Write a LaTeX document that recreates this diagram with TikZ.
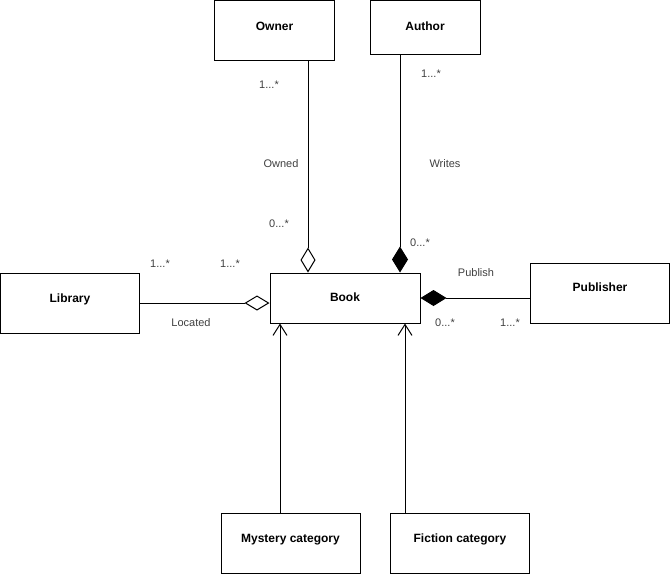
\documentclass[tikz,border=0pt]{standalone}
\usepackage{fontspec}
\setmainfont{Liberation Sans}
\usetikzlibrary{arrows.meta}

\begin{document}
\begin{tikzpicture}[x=1pt,y=-1pt]
\tikzstyle{every node}+=[inner sep=0pt]
\tikzstyle{box}=[draw=black,line width=1pt,text height=9pt,font=\fontsize{12}{14}\selectfont\bfseries]
\tikzstyle{lbl}=[text=black!75,font=\fontsize{11}{13}\selectfont]
\tikzstyle{link}=[draw=black,line width=1pt]
\tikzstyle{aggr}=[link,{Diamond[open,length=25pt,width=15pt]}-]
\tikzstyle{comp}=[link,{Diamond[length=26pt,width=16pt]}-]
\tikzstyle{inh}=[link,-{Straight Barb[length=11pt,width=14pt]}]
\useasboundingbox (0,0) rectangle (672,574);
\node [box,text depth=10pt,minimum width=120pt,minimum height=60pt] (owner) at (274.5,30.5) {Owner};
\node [box,text depth=4pt,minimum width=110pt,minimum height=54pt] (author) at (425,27.5) {Author};
\node [box,text depth=2pt,minimum width=150pt,minimum height=50pt] (book) at (345,298) {Book};
\node [box,text depth=10.5pt,minimum width=139pt,minimum height=60pt] (library) at (70,303) {Library};
\node [box,text depth=12pt,minimum width=139pt,minimum height=60pt] (publisher) at (600,293) {Publisher};
\node [box,text depth=11pt,minimum width=139pt,minimum height=60pt] (mystery) at (290.5,543) {Mystery category};
\node [box,text depth=11pt,minimum width=139pt,minimum height=60pt] (fiction) at (460,543) {Fiction category};
\draw [aggr] ([xshift=-37pt]book.north) -- ([xshift=33.5pt]owner.south);
\draw [comp] ([xshift=55pt]book.north) -- ([xshift=-25pt]author.south);
\draw [aggr] (library.east -| book.west) -- (library.east);
\draw [comp] (book.east) -- (book.east -| publisher.west);
\draw [inh] ([xshift=-10.5pt]mystery.north) -- ([xshift=-10.5pt]mystery.north |- book.south);
\draw [inh] ([xshift=-55pt]fiction.north) -- ([xshift=-55pt]fiction.north |- book.south);
\node [lbl] (ownmany) at (269,85) {1...*};
\node [lbl] (owned) at (281,164) {Owned};
\node [lbl] (bookown) at (279,224) {0...*};
\node [lbl] (authmany) at (431,74) {1...*};
\node [lbl] (writes) at (445,164) {Writes};
\node [lbl] (bookwrt) at (420,243) {0...*};
\node [lbl] (libmany) at (160,264) {1...*};
\node [lbl] (booklib) at (230,264) {1...*};
\node [lbl] (located) at (191,323) {Located};
\node [lbl] (publish) at (476,273) {Publish};
\node [lbl] (bookpub) at (445,323) {0...*};
\node [lbl] (pubmany) at (510,323) {1...*};
\end{tikzpicture}
\end{document}
